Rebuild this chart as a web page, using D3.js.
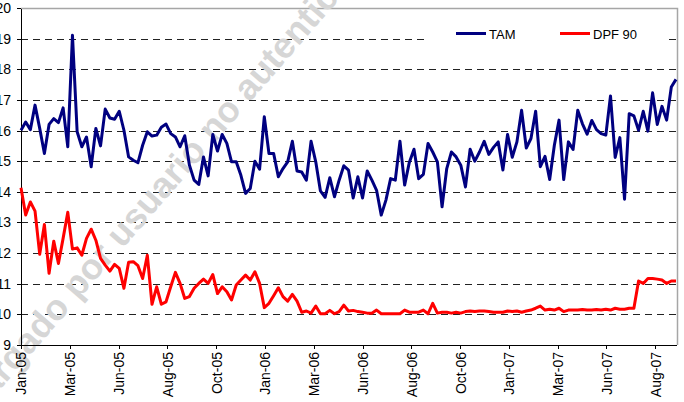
<!DOCTYPE html>
<html>
<head>
<meta charset="utf-8">
<script src="https://cdn.jsdelivr.net/npm/d3@7"></script>
<style>
	body { margin: 0; background: #fff; }
	svg { display: block; font-family: 'Liberation Sans', Arial, sans-serif; }
	.axis path, .axis line { stroke: #000; shape-rendering: crispEdges; }
	.axis text { font-size: 14px; fill: #000; }
</style>
</head>
<body>
<div id="chart"><svg width="684" height="402"></svg></div>
<script>
// weekly observations, first one on 7 Jan 2005
const startDate = new Date(2005, 0, 7);

const tickLabels = [ 'Jan-05', 'Mar-05', 'Jun-05', 'Aug-05', 'Oct-05', 'Jan-06', 'Mar-06',
	'Jun-06', 'Aug-06', 'Oct-06', 'Jan-07', 'Mar-07', 'Jun-07', 'Aug-07' ];

const yTicks = [ 9, 10, 11, 12, 13, 14, 15, 16, 17, 18, 19, 20 ];

const seriesNames = [ 'TAM', 'DPF 90' ];

const tamValues = [
	16.01, 16.28, 16.03, 16.83, 16.07, 15.25, 16.2, 16.39, 16.26, 16.74, 15.47,
	19.11, 15.96, 15.47, 15.79, 14.82, 16.07, 15.5, 16.7, 16.41, 16.37,
	16.63, 16.01, 15.14, 15.03, 14.95, 15.52, 15.96, 15.82, 15.85, 16.11,
	16.21, 15.9, 15.79, 15.47, 15.83, 14.87, 14.38, 14.24, 15.14, 14.52,
	15.87, 15.33, 15.87, 15.58, 14.98, 14.98, 14.54, 13.95, 14.11, 15.0,
	14.74, 16.45, 15.25, 15.25, 14.49, 14.76, 14.98, 15.65, 14.68, 14.65,
	14.38, 15.65, 14.98, 14.03, 13.82, 14.46, 13.84, 14.38, 14.85, 14.71,
	13.8, 14.49, 13.8, 14.68, 14.38, 14.05, 13.24, 13.73, 14.43, 14.38,
	15.65, 14.22, 14.96, 15.39, 14.43, 14.57, 15.58, 15.3, 14.98, 13.51,
	14.76, 15.3, 15.14, 14.87, 14.16, 15.39, 15.0, 15.3, 15.65, 15.22,
	15.45, 15.63, 14.71, 15.87, 15.13, 15.63, 16.66, 15.43, 15.74, 16.63,
	14.82, 15.16, 14.4, 15.52, 16.34, 14.4, 15.63, 15.38, 16.66, 16.22,
	15.88, 16.33, 16.03, 15.9, 15.85, 17.13, 15.12, 15.77, 13.76, 16.55,
	16.48, 16.01, 16.63, 15.98, 17.23, 16.2, 16.79, 16.34, 17.42, 17.67
];

const dpfValues = [
	14.13, 13.24, 13.67, 13.37, 11.96, 12.93, 11.34, 12.39, 11.66, 12.48, 13.33,
	12.13, 12.17, 11.93, 12.48, 12.78, 12.42, 11.83, 11.61, 11.41, 11.63,
	11.5, 10.85, 11.7, 11.72, 11.59, 11.17, 11.93, 10.33, 10.9, 10.33,
	10.41, 10.9, 11.37, 11.01, 10.52, 10.58, 10.85, 11.01, 11.15, 11.01,
	11.3, 10.68, 10.9, 10.74, 10.47, 10.96, 11.12, 11.28, 11.12, 11.39,
	11.01, 10.22, 10.36, 10.61, 10.87, 10.58, 10.43, 10.65, 10.43, 10.07,
	10.11, 10.04, 10.27, 10.02, 10.02, 10.13, 10.02, 10.09, 10.3, 10.11,
	10.13, 10.09, 10.07, 10.04, 10.04, 10.14, 10.02, 10.02, 10.02, 10.02,
	10.02, 10.14, 10.07, 10.07, 10.07, 10.14, 10.02, 10.36, 10.04, 10.07,
	10.07, 10.04, 10.07, 10.04, 10.09, 10.11, 10.09, 10.11, 10.11, 10.09,
	10.07, 10.07, 10.07, 10.11, 10.09, 10.11, 10.07, 10.11, 10.14, 10.2,
	10.27, 10.14, 10.17, 10.14, 10.2, 10.09, 10.14, 10.14, 10.14, 10.16,
	10.14, 10.14, 10.16, 10.14, 10.17, 10.14, 10.2, 10.17, 10.17, 10.2,
	10.2, 11.09, 11.01, 11.17, 11.17, 11.15, 11.12, 11.01, 11.09, 11.09
];

const svg = d3.select('#chart').select('svg');

const margin = { top: 8, left: 21, right: 8, bottom: 57 };
const width = 684;
const height = 402;
const plotRight = 676;
const plotBottom = height - margin.bottom;

/***** SCALES *****/

const dates = tamValues.map((d, i) => d3.timeDay.offset(startDate, 7 * i));

const xScale = d3.scaleTime()
	.domain([ dates[0], dates[dates.length - 1] ])
	.range([ margin.left, plotRight ]);

const yScale = d3.scaleLinear()
	.domain([ 9, 20 ])
	.range([ plotBottom, margin.top ]);

// Excel put a label every 73 days
const tickDates = tickLabels.map((d, i) => d3.timeDay.offset(startDate, 73 * i));

/***** GRIDLINES + FRAME *****/

const grid = svg.append('g');

grid.selectAll('line')
	.data(yTicks.filter((d) => d > 9 && d < 20))
	.enter()
	.append('line')
	.attr('x1', margin.left)
	.attr('x2', plotRight)
	.attr('y1', (d) => Math.round(yScale(d)) + 0.5)
	.attr('y2', (d) => Math.round(yScale(d)) + 0.5)
	.attr('stroke', '#222')
	.attr('stroke-dasharray', '7,5');

// grey border on top and right of plot area
svg.append('path')
	.attr('d', `M${margin.left},${margin.top + 0.5}H${plotRight + 1.5}V${plotBottom}`)
	.attr('fill', 'none')
	.attr('stroke', '#a6a6a6')
	.attr('stroke-width', 1.5);

/***** WATERMARK *****/

svg.append('text')
	.attr('transform', 'translate(159,207) rotate(-49)')
	.attr('text-anchor', 'middle')
	.attr('font-size', 36)
	.attr('font-weight', 'bold')
	.attr('fill', '#d6d6d6')
	.text('Descargado por usuario no autenticado');

/***** AXES *****/

svg.append('g')
	.attr('class', 'axis xAxis')
	.attr('transform', `translate(0, ${plotBottom})`)
	.call(d3.axisBottom(xScale)
		.tickValues(tickDates)
		.tickFormat((d, i) => tickLabels[i])
		.tickSize(4)
		.tickSizeOuter(0))
	.call((g) => g.select('.domain').attr('d', `M${margin.left},0.5H${plotRight + 1}`))
	.selectAll('text')
	.attr('transform', 'rotate(-90)')
	.attr('text-anchor', 'end')
	.attr('x', -7)
	.attr('y', 0)
	.attr('dy', '0.35em');

svg.append('g')
	.attr('class', 'axis yAxis')
	.attr('transform', `translate(${margin.left}, 0)`)
	.call(d3.axisLeft(yScale)
		.tickValues(yTicks)
		.tickSize(4)
		.tickPadding(6)
		.tickSizeOuter(0));

/***** LINES *****/

const line = d3.line()
	.x((d, i) => xScale(dates[i]))
	.y((d) => yScale(d));

const seriesColors = [ '#000080', '#ff0000' ];

svg.append('g')
	.selectAll('path')
	.data([ tamValues, dpfValues ])
	.enter()
	.append('path')
	.attr('d', line)
	.attr('fill', 'none')
	.attr('stroke', (d, i) => seriesColors[i])
	.attr('stroke-width', 3)
	.attr('stroke-linejoin', 'round');

/***** LEGEND *****/

const legend = svg.append('g');

legend.append('rect')
	.attr('x', 428)
	.attr('y', 22)
	.attr('width', 236)
	.attr('height', 30)
	.attr('fill', '#fff');

const legendX = [ 456, 560 ];

const items = legend.selectAll('.legendItem')
	.data(seriesNames)
	.enter()
	.append('g')
	.attr('class', 'legendItem')
	.attr('transform', (d, i) => `translate(${legendX[i]}, 33.5)`);

items.append('line')
	.attr('x1', 0)
	.attr('x2', 30)
	.attr('stroke', (d, i) => seriesColors[i])
	.attr('stroke-width', 3);

items.append('text')
	.attr('x', 33)
	.attr('y', 5)
	.attr('font-size', 13)
	.text((d) => d);
</script>
</body>
</html>
